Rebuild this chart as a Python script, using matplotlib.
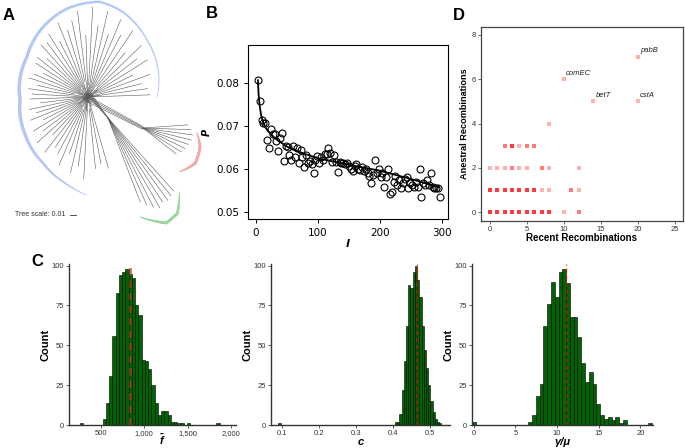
import matplotlib.pyplot as plt
import numpy as np
from matplotlib.collections import LineCollection

plt.rcParams['font.family'] = ['Liberation Sans', 'DejaVu Sans']
plt.rcParams['mathtext.fontset'] = 'custom'
plt.rcParams['mathtext.it'] = 'Liberation Sans:italic:bold'
plt.rcParams['mathtext.rm'] = 'Liberation Sans:bold'

# ---------------- A: unrooted tree (layout in panel pixels) ----------------
hub = (88, 97)
blue_angles = [2, 8, 14, 20, 26, 32, 38, 44, 50, 56, 62, 67, 72, 77, 82, 87, 92, 97, 102, 107,
               112, 117, 122, 127, 132, 137, 142, 147, 152, 157, 162, 167, 172, 177, 182, 187,
               192, 197, 202, 207, 212, 217, 222, 227, 232, 237, 242, 247, 252, 257, 262, 267,
               276, 281, 286]
blue_lengths = [62, 60, 55, 66, 50, 70, 62, 74, 58, 80, 70, 84, 66, 88, 72, 90, 62, 86, 78, 70,
                80, 62, 74, 68, 70, 56, 64, 62, 50, 58, 62, 52, 60, 56, 58, 48, 60, 54, 62, 50,
                64, 56, 68, 52, 70, 60, 64, 74, 60, 78, 70, 82, 72, 68, 74]
blue_starts = [-10, 4, -6, 12, 0, -12, 8, -4, 14, 2, -8, 10, -2, 6, -14, 12, 0, -6, 16, 4,
               -10, 8, -2, 12, -6, 2, 10, -12, 6, 0, -8, 14, 4, -4, 10, -10, 2, 8, -6, 12,
               0, -12, 6, -2, 10, 4, -8, 14, 0, -4, 8, -10, 12, 2, -6]
blue_arc_angles = [0, 44, 68, 83, 103, 123, 147, 182, 210, 236, 257, 269]
blue_arc_radii = [69, 82, 92, 96, 91, 83, 73, 68, 73, 80, 90, 98]
blue_arc_widths = [0.5, 1.0, 1.4, 1.7, 1.9, 2.1, 2.3, 2.5, 2.3, 1.8, 1.1, 0.5]

red_node = (143, 128)
red_angles = [4, -2, -8, -14, -20, -26, -32, -38]
red_lengths = [45, 48, 50, 50, 48, 47, 45, 42]
red_arc_angles = [-5, -18, -34, -50]
red_arc_radii = [54, 60, 63, 57]
red_arc_widths = [0.6, 1.8, 2.0, 0.6]

green_node = (108, 118)
green_angles = [-48, -51, -54, -57, -60, -63, -66, -69]
green_lengths = [98, 100, 102, 100, 104, 100, 95, 90]
green_arc_angles = [-46, -54, -61, -72]
green_arc_radii = [103, 118, 120, 104]
green_arc_widths = [0.6, 2.0, 2.0, 0.6]

# ---------------- B: P versus l ----------------
l_vals = list(range(3, 300, 3))
p_vals = [0.0806, 0.0757, 0.0714, 0.0707, 0.0706, 0.0668, 0.0649, 0.0693, 0.0682, 0.0681,
          0.0664, 0.0643, 0.0672, 0.0684, 0.0618, 0.0653, 0.0652, 0.0632, 0.0622, 0.0654,
          0.0628, 0.0648, 0.0613, 0.0644, 0.0627, 0.0605, 0.0632, 0.0613, 0.0619, 0.0611,
          0.0590, 0.0622, 0.0630, 0.0613, 0.0627, 0.0622, 0.0635, 0.0635, 0.0648, 0.0638,
          0.0617, 0.0632, 0.0617, 0.0594, 0.0617, 0.0613, 0.0613, 0.0611, 0.0614, 0.0607,
          0.0599, 0.0596, 0.0607, 0.0611, 0.0599, 0.0597, 0.0605, 0.0596, 0.0601, 0.0590,
          0.0583, 0.0568, 0.0586, 0.0621, 0.0591, 0.0601, 0.0582, 0.0590, 0.0559, 0.0582,
          0.0601, 0.0542, 0.0547, 0.0570, 0.0583, 0.0563, 0.0574, 0.0557, 0.0568, 0.0576,
          0.0582, 0.0557, 0.0568, 0.0563, 0.0559, 0.0570, 0.0559, 0.0599, 0.0536, 0.0568,
          0.0563, 0.0574, 0.0563, 0.0591, 0.0559, 0.0555, 0.0555, 0.0557, 0.0536]
l_fit = [3, 4, 6, 8, 10, 15, 20, 30, 50, 75, 100, 150, 200, 250, 295]
p_fit = [0.0806, 0.0775, 0.0745, 0.0727, 0.0715, 0.0697, 0.0687, 0.0672, 0.0652, 0.0637,
         0.0625, 0.0610, 0.0596, 0.0577, 0.0558]

# ---------------- D: recombinations ----------------
d_recent = [0, 1, 2, 3, 4, 5, 6, 7, 8, 10, 12,
            0, 1, 2, 3, 4, 5, 6, 7, 8, 11, 12,
            0, 1, 2, 3, 4, 5, 7, 8, 12,
            2, 3, 4, 5, 6,
            8, 14, 20, 10, 20]
d_ancestral = [0, 0, 0, 0, 0, 0, 0, 0, 0, 0, 0,
               1, 1, 1, 1, 1, 1, 1, 1, 1, 1, 1,
               2, 2, 2, 2, 2, 2, 2, 2, 2,
               3, 3, 3, 3, 3,
               4, 5, 5, 6, 7]
d_genes = [4, 4, 4, 4, 4, 4, 4, 4, 4, 1, 2,
           4, 4, 4, 4, 4, 4, 4, 1, 1, 2, 1,
           1, 1, 1, 2, 1, 1, 2, 1, 1,
           2, 4, 1, 2, 2,
           1, 1, 1, 1, 1]
label_names = ['comEC', 'betT', 'pabB', 'cstA']
label_recent = [10, 14, 20, 20]
label_ancestral = [6, 5, 7, 5]

# ---------------- C: bootstrap histograms ----------------
f_start, f_width = 520, 37.5
f_counts = [4, 14, 31, 56, 83, 94, 96, 98, 95, 92, 75, 69, 41, 40, 35, 25, 14, 6, 9, 9,
            6, 2, 2, 1, 1, 0, 1]
f_out_left = [257.5, 1832.5]
f_out_counts = [1, 1]
f_mean = 830

c_start, c_width = 0.405, 0.006
c_counts = [2, 2, 7, 22, 40, 62, 88, 86, 96, 100, 91, 80, 62, 47, 36, 25, 15, 8, 4, 2, 1]
c_out_left = [0.090]
c_out_counts = [1]
c_mean = 0.466

g_start, g_width = 6.54, 0.454
g_counts = [2, 6, 18, 26, 62, 76, 90, 80, 96, 98, 89, 68, 68, 55, 39, 27, 33, 26, 13, 6,
            4, 5, 3, 5, 1, 3]
g_out_left = [-0.2, 20.9]
g_out_counts = [2, 1]
g_mean = 11.04

W, H = 685, 448
fig = plt.figure(figsize=(6.85, 4.48), dpi=100)


def px_axes(left, top, right, bottom):
    return fig.add_axes([left / W, 1 - bottom / H, (right - left) / W, (bottom - top) / H])


def arc(ax, center, angles, radii, widths, color):
    t = np.linspace(angles[0], angles[-1], 120)
    order = np.argsort(angles)
    r = np.interp(t, np.array(angles)[order], np.array(radii)[order])
    w = np.interp(t, np.array(angles)[order], np.array(widths)[order])
    x = center[0] + r * np.cos(np.radians(t))
    y = center[1] - r * np.sin(np.radians(t))
    pts = np.column_stack([x, y]).reshape(-1, 1, 2)
    segs = np.concatenate([pts[:-1], pts[1:]], axis=1)
    ax.add_collection(LineCollection(segs, linewidths=w[:-1], colors=color, capstyle='round'))


def leaves(ax, node, angles, lengths, starts=None):
    a = np.radians(angles)
    if starts is None:
        starts = np.zeros(len(angles))
    s = np.array(starts)
    x0 = node[0] + s * np.cos(a)
    y0 = node[1] - s * np.sin(a)
    x1 = node[0] + np.array(lengths) * np.cos(a)
    y1 = node[1] - np.array(lengths) * np.sin(a)
    for xa, ya, xb, yb in zip(x0, y0, x1, y1):
        ax.plot([xa, xb], [ya, yb], color='#5a5a5a', lw=0.4)


# A
ax_a = px_axes(0, 0, 230, 240)
ax_a.set_xlim(0, 230)
ax_a.set_ylim(240, 0)
ax_a.axis('off')
leaves(ax_a, hub, blue_angles, blue_lengths, blue_starts)
for off in (-3, -1, 1, 3):
    ax_a.plot([hub[0] - 4, red_node[0]], [hub[1] + off, red_node[1] + off / 2], color='#5a5a5a', lw=0.4)
    ax_a.plot([hub[0] + off, green_node[0]], [hub[1] - 4, green_node[1]], color='#5a5a5a', lw=0.4)
leaves(ax_a, red_node, red_angles, red_lengths)
leaves(ax_a, green_node, green_angles, green_lengths)
arc(ax_a, hub, blue_arc_angles, blue_arc_radii, blue_arc_widths, '#b4c8f4')
arc(ax_a, red_node, red_arc_angles, red_arc_radii, red_arc_widths, '#f5a9a9')
arc(ax_a, green_node, green_arc_angles, green_arc_radii, green_arc_widths, '#9fd69f')
ax_a.text(15, 214, 'Tree scale: 0.01', fontsize=5, color='#333333', va='center')
ax_a.plot([70, 76], [215, 215], color='#333333', lw=0.6)

# B
ax_b = px_axes(248, 45, 448, 219)
ax_b.plot(l_vals, p_vals, 'o', mfc='none', mec='black', ms=5, mew=0.8)
ax_b.plot(l_fit, p_fit, color='black', lw=1.3)
ax_b.set_xlim(-13, 310)
ax_b.set_ylim(0.0484, 0.0888)
ax_b.set_xticks([0, 100, 200, 300])
ax_b.set_yticks([0.05, 0.06, 0.07, 0.08])
ax_b.tick_params(labelsize=7.5, length=3, width=0.7)
for lab in ax_b.get_xticklabels() + ax_b.get_yticklabels():
    lab.set_family('DejaVu Sans')
ax_b.set_xlabel('l', fontsize=8, style='italic', fontweight='bold', family='DejaVu Sans', labelpad=1)
ax_b.set_ylabel('P', fontsize=7, style='italic', fontweight='bold', family='DejaVu Sans', labelpad=3)
for s in ax_b.spines.values():
    s.set_linewidth(0.8)

# D
ax_d = px_axes(481, 27, 683, 221)
ax_d.scatter(np.repeat(d_recent, d_genes), np.repeat(d_ancestral, d_genes),
             s=6, color='red', alpha=0.3, linewidths=0, marker='s')
for name, x, y in zip(label_names, label_recent, label_ancestral):
    ax_d.text(x + 0.3, y + 0.12, name, fontsize=5.5, style='italic', color='#222222', va='bottom')
ax_d.set_xlim(-1.2, 26.1)
ax_d.set_ylim(-0.4, 8.36)
ax_d.set_xticks([0, 5, 10, 15, 20, 25])
ax_d.set_yticks([0, 2, 4, 6, 8])
ax_d.tick_params(labelsize=5.5, length=2, width=0.6, color='#555555', labelcolor='#333333', pad=1.5)
ax_d.set_xlabel('Recent Recombinations', fontsize=7, fontweight='bold', labelpad=0)
ax_d.set_ylabel('Anestral Recombinations', fontsize=6.6, fontweight='bold', labelpad=2)
for s in ax_d.spines.values():
    s.set_linewidth(0.9)
    s.set_color('#444444')


# C
def hist_panel(ax, start, width, counts, out_left, out_counts, mean, xlim, xticks, xticklabels,
               xlabel, vlw, vcolor, xpad=0):
    lefts = start + width * np.arange(len(counts))
    ax.bar(lefts, counts, width=width, align='edge', color='#006400', edgecolor='black', lw=0.4)
    ax.bar(out_left, out_counts, width=width, align='edge', color='#006400', edgecolor='black', lw=0.4)
    ax.axvline(mean, color=vcolor, alpha=0.75, ls=(0, (3, 2)), lw=vlw)
    ax.set_xlim(*xlim)
    ax.set_ylim(0, 101)
    ax.set_xticks(xticks)
    ax.set_xticklabels(xticklabels)
    ax.set_yticks([0, 25, 50, 75, 100])
    ax.tick_params(labelsize=5.5, length=2, width=0.6, color='#444444', labelcolor='#333333', pad=1.5)
    for side in ('top', 'right'):
        ax.spines[side].set_visible(False)
    for side in ('left', 'bottom'):
        ax.spines[side].set_linewidth(1.0)
        ax.spines[side].set_color('#333333')
    ax.set_ylabel('Count', fontsize=8, fontweight='bold', labelpad=1)
    ax.set_xlabel(xlabel, fontsize=8, fontweight='bold', style='italic', labelpad=xpad)


ax_c1 = px_axes(69, 264, 236, 425)
hist_panel(ax_c1, f_start, f_width, f_counts, f_out_left, f_out_counts, f_mean, (131, 2058),
           [500, 1000, 1500, 2000], ['500', '1,000', '1,500', '2,000'], r'$\bar{f}$', 1.8, '#c0301a')
ax_c1.xaxis.set_label_coords(0.56, -0.045)
ax_c2 = px_axes(271, 264, 450, 425)
hist_panel(ax_c2, c_start, c_width, c_counts, c_out_left, c_out_counts, c_mean, (0.0703, 0.554),
           [0.1, 0.2, 0.3, 0.4, 0.5], ['0.1', '0.2', '0.3', '0.4', '0.5'], 'c', 1.0, 'red')
ax_c3 = px_axes(472, 264, 653, 425)
hist_panel(ax_c3, g_start, g_width, g_counts, g_out_left, g_out_counts, g_mean, (-0.2, 21.5),
           [0, 5, 10, 15, 20], ['0', '5', '10', '15', '20'], 'γ/μ', 1.0, 'red')

# panel letters
for letter, x, y in [('A', 9, 15), ('B', 212, 14), ('C', 37, 261), ('D', 459, 15)]:
    fig.text(x / W, 1 - y / H, letter, fontsize=12, fontweight='bold', ha='center', va='center')

fig.savefig('out.png', dpi=100)
